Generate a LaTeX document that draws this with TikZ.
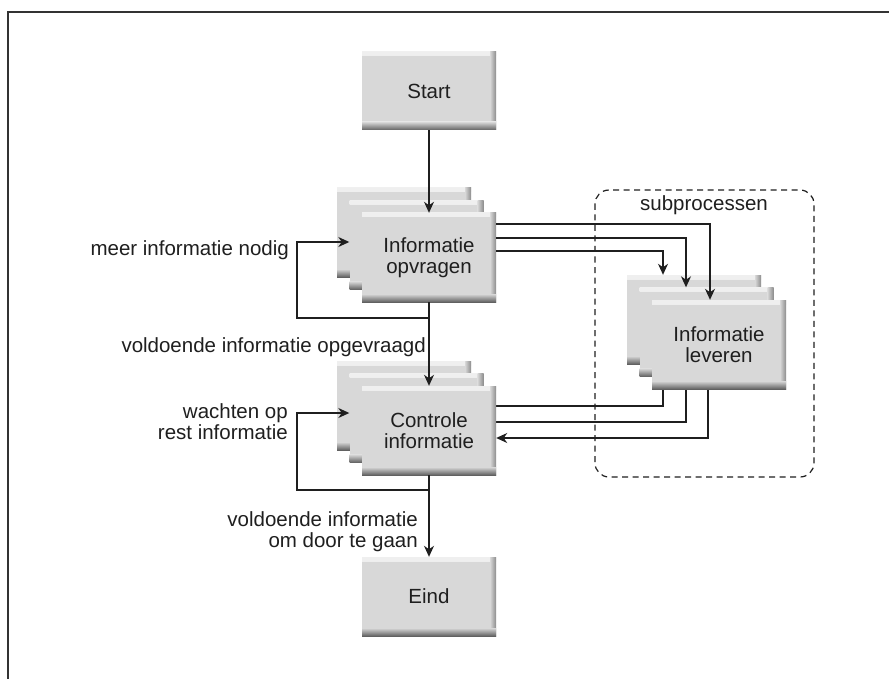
\documentclass[tikz,border=0pt]{standalone}
\usepackage{fontspec}
\setmainfont{Liberation Sans}
\usetikzlibrary{arrows.meta,backgrounds,calc}
\definecolor{boxgray}{HTML}{D8D8D8}
\definecolor{ink}{HTML}{1F1F1F}
\tikzset{
  bx/.style={rectangle, draw=none, fill=boxgray, minimum width=134pt, minimum height=89pt,
    inner sep=0pt, align=center, text=ink, font=\fontsize{20.5}{21}\selectfont,
    path picture={
      \shade[top color=boxgray!40!white, bottom color=boxgray]
        (path picture bounding box.north west) rectangle ([yshift=-4pt]path picture bounding box.north east);
      \shade[left color=boxgray, right color=black!45]
        ([xshift=-6pt]path picture bounding box.north east) rectangle (path picture bounding box.south east);
      \shade[top color=boxgray, bottom color=black!62]
        ([yshift=8pt]path picture bounding box.south west) rectangle (path picture bounding box.south east);
    }},
  bxs/.style={bx, minimum height=78pt},
  arr/.style={draw=ink, line width=1.3pt, -{Stealth[length=11pt, width=10pt, inset=3.5pt]}},
  ln/.style={draw=ink, line width=1.3pt},
  lbl/.style={inner sep=0pt, text=ink, align=right, font=\fontsize{20.5}{21}\selectfont},
  frame/.style={draw=black!80, line width=1.5pt},
  subbox/.style={draw=ink, line width=1.2pt, dash pattern=on 6pt off 4.5pt, rounded corners=14pt}
}
\begin{document}
\begin{tikzpicture}[x=1pt, y=-1pt]
\useasboundingbox (0,0) rectangle (889,679);
\draw[frame] (8,679) -- (8,12) -- (889,12);

% boxes
\node[bxs] (start) at (429,91) {Start};
\node[bx] (info1) at (404,232.5) {};
\node[bx] (info2) at (416.5,245) {};
\node[bx] (info3) at (429,257.5) {Informatie\\opvragen};
\node[bx] (ctrl1) at (404,405.5) {};
\node[bx] (ctrl2) at (416.5,418) {};
\node[bx] (ctrl3) at (429,430.5) {Controle\\informatie};
\node[bxs, minimum height=79pt] (eind) at (429,596.5) {Eind};
\node[bx] (lev1) at (694,319.5) {};
\node[bx] (lev2) at (706.5,332) {};
\node[bx] (lev3) at (719,344.5) {Informatie\\leveren};

% subprocess frame
\draw[subbox] (595,190) rectangle (814,477);
\node[lbl, anchor=center] (sublbl) at (704,205) {subprocessen};

% labels
\node[lbl, anchor=base east] (lmeer) at (289,255) {meer informatie nodig};
\node[lbl, anchor=base east] (lvold) at (426,352) {voldoende informatie opgevraagd};
\node[lbl, anchor=east] (lwacht) at (288,422) {wachten op\\rest informatie};
\node[lbl, anchor=east] (lgaan) at (418,532) {voldoende informatie\\om door te gaan};

% coordinates
\coordinate (la) at (297,242);
\coordinate (lb) at (297,318);
\coordinate (wa) at (297,413);
\coordinate (wb) at (297,490);
\coordinate (a1) at (710,224);
\coordinate (a2) at (686,238);
\coordinate (a3) at (663,251);
\coordinate (b1) at (663,406);
\coordinate (b2) at (686,422);
\coordinate (b3) at (708,438);

% main flow
\draw[arr] (start) -- (info3);
\draw[arr] (info3) -- (ctrl3);
\draw[arr] (ctrl3) -- (eind);

% loops
\draw[arr] (info3.south |- lb) -- (lb) -- (la) -- (la -| info2.west);
\draw[arr] (ctrl3.south |- wb) -- (wb) -- (wa) -- (wa -| ctrl2.west);

% to subprocesses
\draw[arr] (info3.east |- a1) -| (lev3.north -| a1);
\draw[arr] (info3.east |- a2) -| (lev2.north -| a2);
\draw[arr] (info3.east |- a3) -| (lev1.north -| a3);

% back from subprocesses (behind the boxes)
\begin{scope}[on background layer]
\fill[white] (0,0) rectangle (889,679);
\draw[ln] (lev1.south -| b1) |- (ctrl3.east |- b1);
\draw[ln] (lev2.south -| b2) |- (ctrl3.east |- b2);
\draw[arr] (lev3.south -| b3) |- (ctrl3.east |- b3);
\end{scope}
\end{tikzpicture}
\end{document}
